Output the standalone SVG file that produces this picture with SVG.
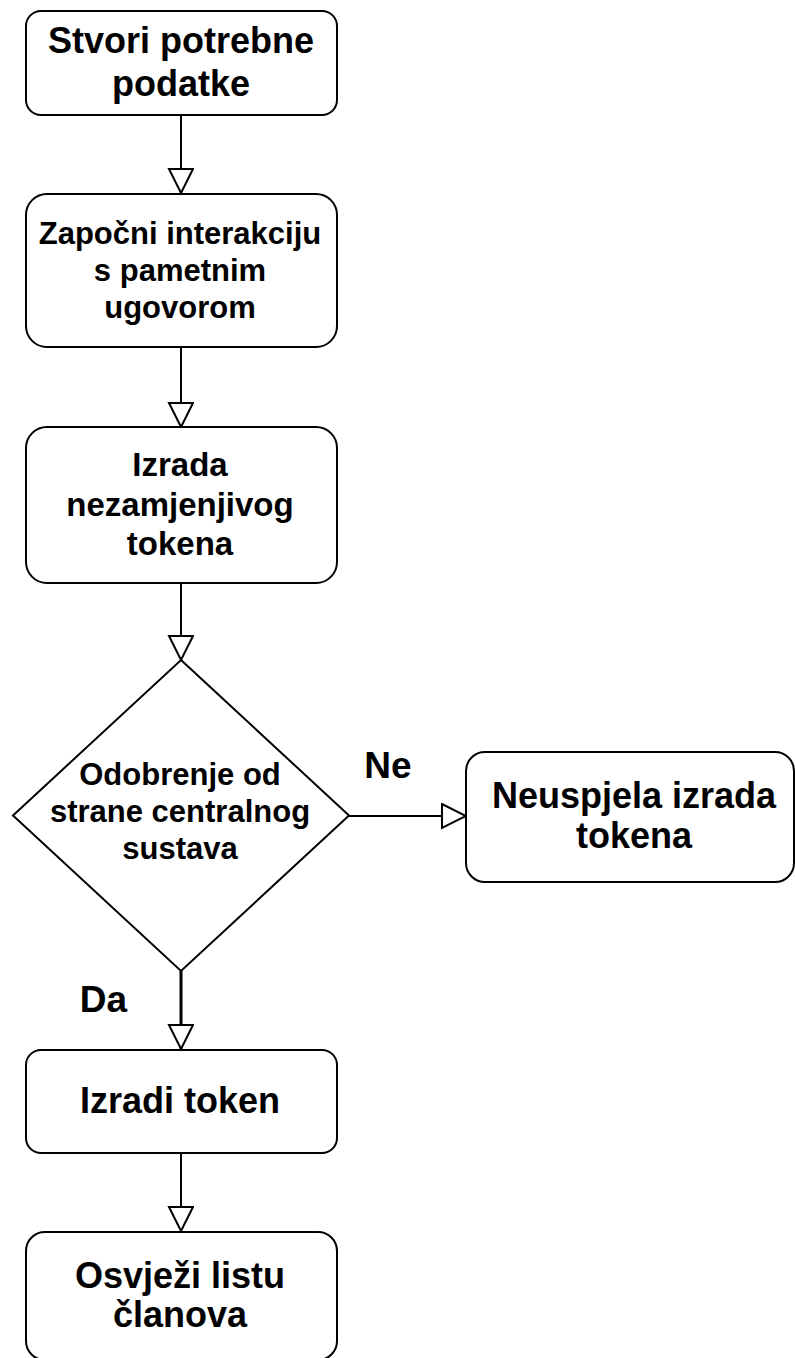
<svg xmlns="http://www.w3.org/2000/svg" width="795" height="1358" viewBox="0 0 795 1358">
<style>
.box{fill:#fff;stroke:#000;stroke-width:2}
.t{font-family:"Liberation Sans",Arial,sans-serif;font-weight:bold;fill:#000;text-anchor:middle}
.edge{fill:none;stroke:#000;stroke-width:2}
</style>
<defs>
<marker id="arr" markerUnits="userSpaceOnUse" markerWidth="28" markerHeight="28" viewBox="0 0 28 28" refX="26" refY="13" orient="auto">
<path d="M2,1 L26,13 L2,25 Z" fill="#fff" stroke="#000" stroke-width="2"/>
</marker>
</defs>
<rect width="795" height="1358" fill="#fff"/>
<g id="connectors">
<path class="edge" d="M181,115 L181,193" marker-end="url(#arr)"/>
<path class="edge" d="M181,347 L181,427" marker-end="url(#arr)"/>
<path class="edge" d="M181,583 L181,660" marker-end="url(#arr)"/>
<path class="edge" d="M181,971 L181,1049" style="stroke-width:3" marker-end="url(#arr)"/>
<path class="edge" d="M181,1153 L181,1231" marker-end="url(#arr)"/>
<path class="edge" d="M348,816 L466,816" marker-end="url(#arr)"/>
</g>
<g id="n1">
<rect class="box" x="26" y="11" width="311" height="104" rx="15"/>
<text class="t" x="181" y="53" font-size="36">Stvori potrebne</text>
<text class="t" x="181" y="96" font-size="36">podatke</text>
</g>
<g id="n2">
<rect class="box" x="26" y="194" width="311" height="153" rx="21"/>
<text class="t" x="180" y="244" font-size="31">Započni interakciju</text>
<text class="t" x="180" y="281" font-size="31">s pametnim</text>
<text class="t" x="180" y="318" font-size="31">ugovorom</text>
</g>
<g id="n3">
<rect class="box" x="26" y="427" width="311" height="156" rx="21"/>
<text class="t" x="180" y="476" font-size="33">Izrada</text>
<text class="t" x="180" y="515.5" font-size="33">nezamjenjivog</text>
<text class="t" x="180" y="555" font-size="33">tokena</text>
</g>
<g id="n4">
<path class="box" d="M181,660 L349,815.5 L181,971 L13,815.5 Z"/>
<text class="t" x="180" y="785" font-size="31">Odobrenje od</text>
<text class="t" x="180" y="822" font-size="31">strane centralnog</text>
<text class="t" x="180" y="859" font-size="31">sustava</text>
</g>
<g id="n5">
<rect class="box" x="466" y="752" width="328" height="130" rx="19"/>
<text class="t" x="634" y="808" font-size="36">Neuspjela izrada</text>
<text class="t" x="634" y="848" font-size="36">tokena</text>
</g>
<g id="n6">
<rect class="box" x="26" y="1050" width="311" height="103" rx="15"/>
<text class="t" x="180" y="1113" font-size="36">Izradi token</text>
</g>
<g id="n7">
<rect class="box" x="26" y="1232" width="311" height="128" rx="19"/>
<text class="t" x="180" y="1288" font-size="36">Osvježi listu</text>
<text class="t" x="180" y="1327" font-size="36">članova</text>
</g>
<g id="labels">
<text class="t" x="388" y="778" font-size="37">Ne</text>
<text class="t" x="103.5" y="1012" font-size="37">Da</text>
</g>
</svg>
